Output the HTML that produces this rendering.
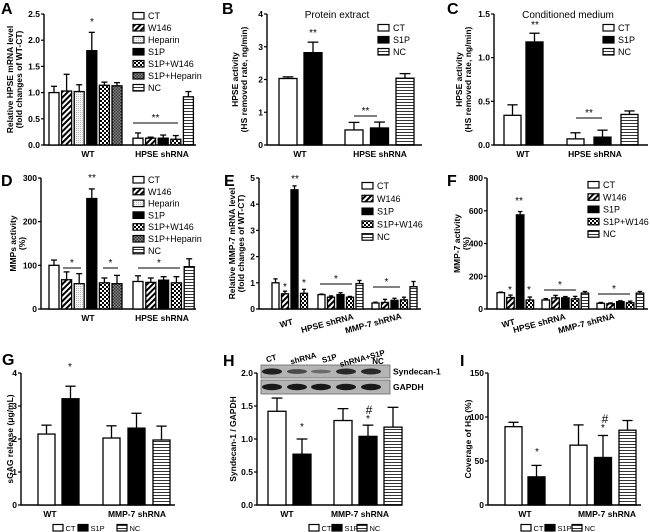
<!DOCTYPE html>
<html><head><meta charset="utf-8"><style>
html,body{margin:0;padding:0;background:#fff;}
svg{display:block;font-family:"Liberation Sans",Arial,sans-serif;}
</style></head><body>
<svg id="fig" width="650" height="532" viewBox="0 0 650 532">
<defs>
<pattern id="hatch" width="4" height="4" patternUnits="userSpaceOnUse" patternTransform="rotate(45)"><rect width="4" height="4" fill="#fff"/><rect width="2" height="4" fill="#000"/></pattern>
<pattern id="dots" width="2" height="2" patternUnits="userSpaceOnUse"><rect width="2" height="2" fill="#f4f4f4"/><rect width="1" height="1" fill="#bbb"/></pattern>
<pattern id="checker" width="4" height="4" patternUnits="userSpaceOnUse"><rect width="4" height="4" fill="#fff"/><rect width="2" height="2" fill="#000"/><rect x="2" y="2" width="2" height="2" fill="#000"/></pattern>
<pattern id="dchecker" width="3" height="3" patternUnits="userSpaceOnUse"><rect width="3" height="3" fill="#888"/><rect width="1.5" height="1.5" fill="#333"/><rect x="1.5" y="1.5" width="1.5" height="1.5" fill="#333"/></pattern>
<pattern id="hlines" width="4" height="3" patternUnits="userSpaceOnUse"><rect width="4" height="3" fill="#fff"/><rect width="4" height="1" fill="#333"/></pattern>
</defs>
<g id="root"></g>
</svg>
<script>
// ---------- DATA ----------
const aGroups=["WT","HPSE shRNA"];
const aSeriesWT=["CT","W146","Heparin","S1P","S1P+W146","S1P+Heparin"];
const aSeriesSh=["CT","W146","S1P","S1P+W146","NC"];
const aValWT=[1.0,1.03,1.02,1.8,1.14,1.13];
const aErrWT=[0.12,0.32,0.13,0.35,0.06,0.06];
const aValSh=[0.13,0.13,0.13,0.11,0.92];
const aErrSh=[0.1,0.02,0.06,0.07,0.1];
const aTicks=[0,0.5,1.0,1.5,2.0,2.5];
const aTickLabels=["0.0","0.5","1.0","1.5","2.0","2.5"];

const bGroups=["WT","HPSE shRNA"];
const bSeriesWT=["CT","S1P"];
const bSeriesSh=["CT","S1P","NC"];
const bValWT=[2.03,2.82];
const bErrWT=[0.05,0.32];
const bValSh=[0.46,0.52,2.04];
const bErrSh=[0.23,0.18,0.14];
const bTicks=[0,1,2,3,4];
const bTickLabels=["0","1","2","3","4"];

const cGroups=["WT","HPSE shRNA"];
const cSeriesWT=["CT","S1P"];
const cSeriesSh=["CT","S1P","NC"];
const cValWT=[0.34,1.18];
const cErrWT=[0.12,0.1];
const cValSh=[0.07,0.09,0.35];
const cErrSh=[0.07,0.08,0.04];
const cTicks=[0,0.5,1.0,1.5];
const cTickLabels=["0.0","0.5","1.0","1.5"];

const dGroups=["WT","HPSE shRNA"];
const dSeriesWT=["CT","W146","Heparin","S1P","S1P+W146","S1P+Heparin"];
const dSeriesSh=["CT","W146","S1P","S1P+W146","NC"];
const dValWT=[100,67,58,253,60,58];
const dErrWT=[12,18,23,22,11,19];
const dValSh=[63,61,66,60,97];
const dErrSh=[13,10,8,14,18];
const dTicks=[0,100,200,300];
const dTickLabels=["0","100","200","300"];

const eGroups=["WT","HPSE shRNA","MMP-7 shRNA"];
const eSeriesWT=["CT","W146","S1P","S1P+W146"];
const eSeriesSh=["CT","W146","S1P","S1P+W146","NC"];
const eValWT=[1.0,0.58,4.55,0.6];
const eErrWT=[0.15,0.1,0.15,0.15];
const eValHp=[0.55,0.45,0.55,0.45,0.97];
const eErrHp=[0.02,0.05,0.07,0.03,0.12];
const eValMm=[0.23,0.25,0.33,0.35,0.85];
const eErrMm=[0.03,0.12,0.08,0.1,0.2];
const eTicks=[0,1,2,3,4,5];
const eTickLabels=["0","1","2","3","4","5"];

const fGroups=["WT","HPSE shRNA","MMP-7 shRNA"];
const fSeriesWT=["CT","W146","S1P","S1P+W146"];
const fSeriesSh=["CT","W146","S1P","S1P+W146","NC"];
const fValWT=[100,70,575,55];
const fErrWT=[3,15,20,18];
const fValHp=[55,68,68,62,97];
const fErrHp=[8,15,8,15,10];
const fValMm=[35,32,45,38,97];
const fErrMm=[5,5,5,10,10];
const fTicks=[0,200,400,600,800];
const fTickLabels=["0","200","400","600","800"];

const gGroups=["WT","MMP-7 shRNA"];
const gSeriesWT=["CT","S1P"];
const gSeriesSh=["CT","S1P","NC"];
const gValWT=[2.15,3.22];
const gErrWT=[0.27,0.38];
const gValSh=[2.03,2.33,1.97];
const gErrSh=[0.37,0.45,0.42];
const gTicks=[0,1,2,3,4];
const gTickLabels=["0","1","2","3","4"];

const hGroups=["WT","MMP-7 shRNA"];
const hSeriesWT=["CT","S1P"];
const hSeriesSh=["CT","S1P","NC"];
const hValWT=[1.42,0.77];
const hErrWT=[0.2,0.23];
const hValSh=[1.28,1.04,1.18];
const hErrSh=[0.18,0.17,0.3];
const hTicks=[0,0.5,1.0,1.5,2.0];
const hTickLabels=["0.0","0.5","1.0","1.5","2.0"];

const iGroups=["WT","MMP-7 shRNA"];
const iSeriesWT=["CT","S1P"];
const iSeriesSh=["CT","S1P","NC"];
const iValWT=[89,32];
const iErrWT=[5,13];
const iValSh=[68,54,85];
const iErrSh=[23,25,11];
const iTicks=[0,50,100,150];
const iTickLabels=["0","50","100","150"];

// ---------- DRAW ----------
const NS="http://www.w3.org/2000/svg";
const root=document.getElementById('root');
const FILL={"CT":"#fff","W146":"url(#hatch)","Heparin":"url(#dots)","S1P":"#000","S1P+W146":"url(#checker)","S1P+Heparin":"url(#dchecker)","NC":"url(#hlines)"};
function mk(tag,attrs,parent){const e=document.createElementNS(NS,tag);for(const k in attrs)e.setAttribute(k,attrs[k]);(parent||root).appendChild(e);return e;}
function txt(s,x,y,size,anchor,parent,name,extra){const t=mk('text',Object.assign({x:x,y:y,'font-size':size,'font-weight':'bold','text-anchor':anchor||'middle'},extra||{}),parent);t.textContent=s;


return t;}
function swatch(s,x,y,g,w){
  const r=mk('rect',{x:x,y:y-3.5,width:w||11,height:6.5,fill:FILL[s],stroke:'#000','stroke-width':1.2},g);
  
  
}

function panel(p){
  const g=mk('g',{});
  
  
  const ys=v=>p.y0-(v/p.ymax)*(p.y0-p.ytop);
  txt(p.id,p.letterX,p.letterY,16,'start',g,'panel-letter');
  const ax=mk('path',{d:`M${p.x0},${p.ytop}V${p.y0}H${p.xend}`,stroke:'#000','stroke-width':1.4,fill:'none'},g);
  
  
  p.ticks.forEach((t,i)=>{
    mk('line',{x1:p.x0-3,x2:p.x0,y1:ys(t),y2:ys(t),stroke:'#000','stroke-width':1.2},g);
    txt(p.tickLabels[i],p.x0-4,ys(t)+3,8.5,'end',g,'y-tick-label');
  });
  const ty=(p.ytop+p.y0)/2;
  p.yTitle.forEach((line,i)=>{const tx=p.titleXs[i];txt(line,tx,ty,8.5,'middle',g,'y-axis-title',{transform:`rotate(-90 ${tx} ${ty})`});});
  p.groups.forEach((gr,gi)=>{
    gr.series.forEach((s,bi)=>{
      const x=gr.start+bi*gr.pitch, v=gr.vals[bi], e=gr.errs[bi];
      const top=ys(v), et=ys(v+e), cx=x+p.bw/2;
      const l=mk('line',{x1:cx,x2:cx,y1:top,y2:et,stroke:'#000','stroke-width':1.3},g);
      
      
      mk('line',{x1:cx-p.bw*0.3,x2:cx+p.bw*0.3,y1:et,y2:et,stroke:'#000','stroke-width':1.3},g);
      const r=mk('rect',{x:x,y:top,width:p.bw,height:p.y0-top,fill:FILL[s],stroke:'#000','stroke-width':1.3},g);
      
      
    });
    if(p.rot){
      const lx=gr.labelX, ly=p.y0+17;
      txt(p.cats[gi],lx,ly,8.5,'middle',g,'x-category-label',{transform:`rotate(-15 ${lx} ${ly})`});
    } else txt(p.cats[gi],gr.labelX,p.y0+12,8.5,'middle',g,'x-category-label');
  });
  if(p.legend){
    p.legend.items.forEach((s,i)=>{
      const y=p.legend.y+i*p.legend.dy;
      swatch(s,p.legend.x,y,g);
      txt(s,p.legend.x+15,y+3,9,'start',g,'legend-entry',{'font-weight':'normal'});
    });
  }
  if(p.hlegend){
    ['CT','S1P','NC'].forEach((s,i)=>{
      const x=p.hlegend.xs[i];
      swatch(s,x,p.hlegend.y,g,10);
      txt(s,x+12.5,p.hlegend.y+3,7.5,'start',g,'legend-entry',{'font-weight':'normal'});
    });
  }
  (p.sig||[]).forEach(sg=>{
    if(sg.x2){mk('line',{x1:sg.x1,x2:sg.x2,y1:sg.y,y2:sg.y,stroke:'#000','stroke-width':1},g);}
    txt(sg.t,sg.x2?(sg.x1+sg.x2)/2:sg.x1,sg.y-2,sg.t==='#'?12:10,'middle',g,'significance-marker',{'font-weight':'normal'});
  });
  if(p.title) txt(p.title,p.title_x,p.title_y,10,'middle',g,'panel-title',{'font-weight':'normal'});
}

panel({id:'A',letterX:1,letterY:14,x0:44,xend:196,y0:145,ytop:14,ymax:2.5,ticks:aTicks,tickLabels:aTickLabels,titleXs:[13,22],
 yTitle:['Relative HPSE mRNA level','(fold changes of WT-CT)'],bw:10,cats:aGroups,
 groups:[{start:49,pitch:12.6,series:aSeriesWT,vals:aValWT,errs:aErrWT,labelX:88},{start:133,pitch:12.6,series:aSeriesSh,vals:aValSh,errs:aErrSh,labelX:162}],
 legend:{x:133,y:16,dy:12,items:["CT","W146","Heparin","S1P","S1P+W146","S1P+Heparin","NC"]},
 sig:[{t:'*',x1:92,y:27},{t:'**',x1:133,x2:178,y:123}]});
panel({id:'B',letterX:222,letterY:14,x0:267,xend:422,y0:145,ytop:14,ymax:4,ticks:bTicks,tickLabels:bTickLabels,titleXs:[238,247],
 yTitle:['HPSE activity','(HS removed rate, ng/min)'],bw:18,cats:bGroups,
 groups:[{start:279,pitch:25,series:bSeriesWT,vals:bValWT,errs:bErrWT,labelX:300},{start:345,pitch:25.5,series:bSeriesSh,vals:bValSh,errs:bErrSh,labelX:380}],
 legend:{x:378,y:28,dy:12,items:["CT","S1P","NC"]},
 sig:[{t:'**',x1:313,y:38},{t:'**',x1:354,x2:377,y:116}],title:'Protein extract',title_x:337,title_y:18});
panel({id:'C',letterX:447,letterY:14,x0:494,xend:648,y0:145,ytop:14,ymax:1.5,ticks:cTicks,tickLabels:cTickLabels,titleXs:[462,471],
 yTitle:['HPSE activity','(HS removed rate, ng/min)'],bw:17,cats:cGroups,
 groups:[{start:504,pitch:22,series:cSeriesWT,vals:cValWT,errs:cErrWT,labelX:523},{start:567,pitch:27,series:cSeriesSh,vals:cValSh,errs:cErrSh,labelX:595}],
 legend:{x:603,y:28,dy:12,items:["CT","S1P","NC"]},
 sig:[{t:'**',x1:535,y:30},{t:'**',x1:576,x2:602,y:118}],title:'Conditioned medium',title_x:568,title_y:18});
panel({id:'D',letterX:1,letterY:186,x0:41,xend:196,y0:309,ytop:178,ymax:300,ticks:dTicks,tickLabels:dTickLabels,titleXs:[16,25],
 yTitle:['MMPs activity','(%)'],bw:10,cats:dGroups,
 groups:[{start:49,pitch:12.6,series:dSeriesWT,vals:dValWT,errs:dErrWT,labelX:88},{start:133,pitch:12.8,series:dSeriesSh,vals:dValSh,errs:dErrSh,labelX:162}],
 legend:{x:133,y:180,dy:11.8,items:["CT","W146","Heparin","S1P","S1P+W146","S1P+Heparin","NC"]},
 sig:[{t:'**',x1:92,y:183},{t:'*',x1:63,x2:81,y:268},{t:'*',x1:103,x2:118,y:268},{t:'*',x1:138,x2:180,y:268}]});
panel({id:'E',letterX:224,letterY:186,x0:259,xend:421,y0:309,ytop:178,ymax:5,ticks:eTicks,tickLabels:eTickLabels,titleXs:[235,244],
 yTitle:['Relative MMP-7 mRNA level','(fold changes of WT-CT)'],bw:7,cats:eGroups,rot:true,
 groups:[{start:272,pitch:9.5,series:eSeriesWT,vals:eValWT,errs:eErrWT,labelX:287},{start:318,pitch:9.5,series:eSeriesSh,vals:eValHp,errs:eErrHp,labelX:328},{start:372,pitch:9.5,series:eSeriesSh,vals:eValMm,errs:eErrMm,labelX:374}],
 legend:{x:362,y:186,dy:12.8,items:["CT","W146","S1P","S1P+W146","NC"]},
 sig:[{t:'**',x1:295,y:184},{t:'*',x1:285,y:292},{t:'*',x1:304,y:288},{t:'*',x1:320,x2:352,y:284},{t:'*',x1:373,x2:400,y:287}]});
panel({id:'F',letterX:447,letterY:186,x0:487,xend:648,y0:309,ytop:178,ymax:800,ticks:fTicks,tickLabels:fTickLabels,titleXs:[460,469],
 yTitle:['MMP-7 activity','(%)'],bw:7.5,cats:fGroups,rot:true,
 groups:[{start:497,pitch:9.7,series:fSeriesWT,vals:fValWT,errs:fErrWT,labelX:509},{start:542,pitch:9.8,series:fSeriesSh,vals:fValHp,errs:fErrHp,labelX:540},{start:597,pitch:9.8,series:fSeriesSh,vals:fValMm,errs:fErrMm,labelX:587}],
 legend:{x:588,y:185,dy:12.3,items:["CT","W146","S1P","S1P+W146","NC"]},
 sig:[{t:'**',x1:519,y:206},{t:'*',x1:510,y:295},{t:'*',x1:529,y:295},{t:'*',x1:544,x2:576,y:290},{t:'*',x1:598,x2:630,y:294}]});
panel({id:'G',letterX:2,letterY:365,x0:21,xend:175,y0:505,ytop:373,ymax:4,ticks:gTicks,tickLabels:gTickLabels,titleXs:[13],
 yTitle:['sGAG release (μg/mL)'],bw:17,cats:gGroups,
 groups:[{start:38,pitch:24,series:gSeriesWT,vals:gValWT,errs:gErrWT,labelX:50},{start:103,pitch:25,series:gSeriesSh,vals:gValSh,errs:gErrSh,labelX:137}],
 hlegend:{xs:[53,78,117],y:528},sig:[{t:'*',x1:70,y:372}]});
panel({id:'H',letterX:223,letterY:366,x0:257,xend:402,y0:505,ytop:373,ymax:2,ticks:hTicks,tickLabels:hTickLabels,titleXs:[236],
 yTitle:['Syndecan-1 / GAPDH'],bw:18,cats:hGroups,
 groups:[{start:268,pitch:25,series:hSeriesWT,vals:hValWT,errs:hErrWT,labelX:287},{start:334,pitch:25,series:hSeriesSh,vals:hValSh,errs:hErrSh,labelX:360}],
 hlegend:{xs:[309,332,357],y:528},sig:[{t:'*',x1:302,y:432},{t:'*',x1:368,y:424},{t:'#',x1:369,y:416}]});
panel({id:'I',letterX:460,letterY:366,x0:488,xend:641,y0:505,ytop:373,ymax:150,ticks:iTicks,tickLabels:iTickLabels,titleXs:[471],
 yTitle:['Coverage of HS (%)'],bw:17,cats:iGroups,
 groups:[{start:505,pitch:23,series:iSeriesWT,vals:iValWT,errs:iErrWT,labelX:525},{start:570,pitch:24.5,series:iSeriesSh,vals:iValSh,errs:iErrSh,labelX:607}],
 hlegend:{xs:[521,545,572],y:528},sig:[{t:'*',x1:537,y:457},{t:'*',x1:603,y:433},{t:'#',x1:605,y:425}]});

// western blot inset for H
(function(){
  const g=mk('g',{});
  
  
  const laneX=[272,297,321,346,371];
  const dens=[0.9,0.65,0.45,0.85,0.85];
  [[365,378,'Syndecan-1'],[380,394,'GAPDH']].forEach((row,ri)=>{
    const r=mk('rect',{x:261,y:row[0],width:129,height:row[1]-row[0],fill:'#b4b4b4',stroke:'#666','stroke-width':0.8},g);
    
    
    laneX.forEach((x,i)=>{
      const d=ri?0.95:dens[i];
      mk('ellipse',{cx:x,cy:(row[0]+row[1])/2,rx:10,ry:2.8*d+0.6,fill:'#111','opacity':d},g);
    });
    txt(row[2],393,(row[0]+row[1])/2+3,8.5,'start',g,'blot-label');
  });
  const lanes=["CT","shRNA","S1P","shRNA+S1P"];
  lanes.forEach((l,i)=>{
    const x=[272,304,330,363][i];
    txt(l,x,361,8,'middle',g,'lane-label',{transform:`rotate(-15 ${x} 361)`});
  });
  txt('NC',378,364,8,'middle',g,'lane-label');
})();
</script>
</body></html>
